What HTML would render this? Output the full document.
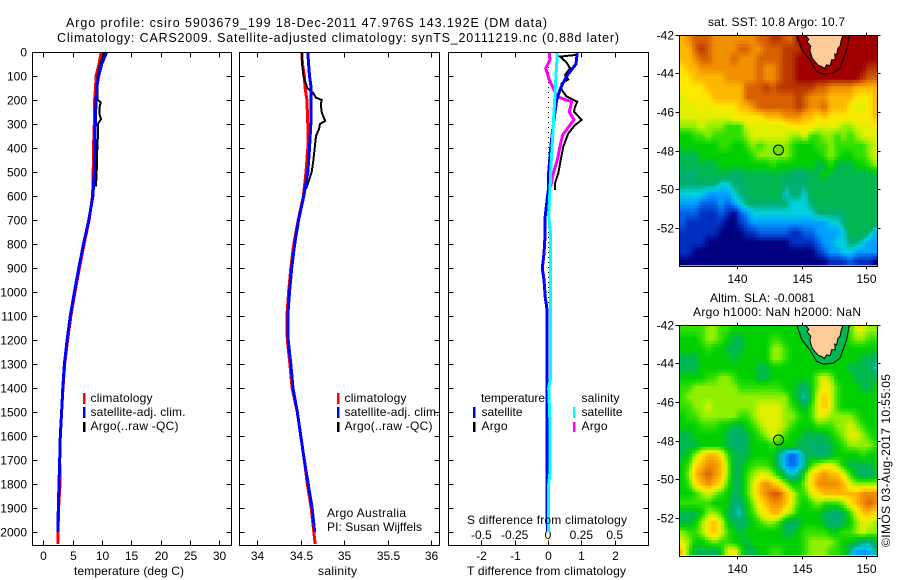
<!DOCTYPE html>
<html>
<head>
<meta charset="utf-8">
<title>Argo profile</title>
<style>
html,body{margin:0;padding:0;background:#fff;}
svg{display:block;}
text{font-family:"Liberation Sans",sans-serif;font-size:12px;fill:#000;}
.t{font-size:12.5px;}
</style>
</head>
<body>
<svg id="fig" xmlns="http://www.w3.org/2000/svg" width="900" height="580" viewBox="0 0 900 580">
<rect x="0" y="0" width="900" height="580" fill="#fff"/>
<text class="t" x="66" y="27" textLength="481" lengthAdjust="spacing">Argo profile: csiro 5903679_199 18-Dec-2011 47.976S 143.192E (DM data)</text>
<text class="t" x="57" y="42" textLength="562" lengthAdjust="spacing">Climatology: CARS2009. Satellite-adjusted climatology: synTS_20111219.nc (0.88d later)</text>

<g id="layer-maps"></g>
<g id="layer-panels"></g>

<text x="74" y="575" textLength="110" lengthAdjust="spacing">temperature (deg C)</text>
<text x="318" y="575" textLength="39" lengthAdjust="spacing">salinity</text>
<text x="467" y="575" textLength="159" lengthAdjust="spacing">T difference from climatology</text>
<text x="467" y="524" textLength="160" lengthAdjust="spacing">S difference from climatology</text>

<g>
<rect x="83" y="393" width="2.5" height="11" fill="#ff0000"/>
<rect x="83" y="407" width="2.5" height="11" fill="#0000ff"/>
<rect x="83" y="422" width="2.5" height="10" fill="#000000"/>
<text x="90.5" y="402" textLength="62" lengthAdjust="spacing">climatology</text>
<text x="90.5" y="416" textLength="95" lengthAdjust="spacing">satellite-adj. clim.</text>
<text x="90.5" y="430" textLength="88" lengthAdjust="spacing">Argo(..raw -QC)</text>
</g>
<g>
<rect x="337" y="393" width="2.5" height="11" fill="#ff0000"/>
<rect x="337" y="407" width="2.5" height="11" fill="#0000ff"/>
<rect x="337" y="422" width="2.5" height="10" fill="#000000"/>
<text x="344.5" y="402" textLength="62" lengthAdjust="spacing">climatology</text>
<text x="344.5" y="416" textLength="95" lengthAdjust="spacing">satellite-adj. clim.</text>
<text x="344.5" y="430" textLength="88" lengthAdjust="spacing">Argo(..raw -QC)</text>
</g>
<text x="327" y="517" textLength="79" lengthAdjust="spacing">Argo Australia</text>
<text x="327" y="531" textLength="95" lengthAdjust="spacing">PI: Susan Wijffels</text>

<g>
<text x="481" y="402" textLength="64" lengthAdjust="spacing">temperature</text>
<text x="581.5" y="402" textLength="38" lengthAdjust="spacing">salinity</text>
<rect x="473" y="407" width="2.5" height="11" fill="#0000ff"/>
<rect x="473" y="422" width="2.5" height="10" fill="#000000"/>
<rect x="573" y="407" width="2.5" height="11" fill="#00ffff"/>
<rect x="573" y="422" width="2.5" height="10" fill="#ff00ff"/>
<text x="481.5" y="416" textLength="41" lengthAdjust="spacing">satellite</text>
<text x="481.5" y="430" textLength="26" lengthAdjust="spacing">Argo</text>
<text x="581.5" y="416" textLength="41" lengthAdjust="spacing">satellite</text>
<text x="581.5" y="430" textLength="26" lengthAdjust="spacing">Argo</text>
</g>

<text x="708" y="26" textLength="137" lengthAdjust="spacing">sat. SST: 10.8 Argo: 10.7</text>
<text x="710" y="302" textLength="105" lengthAdjust="spacing">Altim. SLA: -0.0081</text>
<text x="693" y="316" textLength="168" lengthAdjust="spacing">Argo h1000: NaN h2000: NaN</text>
<text transform="translate(890,547) rotate(-90)" x="0" y="0" textLength="173" lengthAdjust="spacing">©IMOS 03-Aug-2017 10:55:05</text>
</svg>

<script>
// ---------- profile data ----------
const climDepths = [0,50,100,150,200,300,400,500,600,700,800,900,1000,1100,1200,1300,1400,1500,1600,1700,1800,1900,2000,2050];
const satDepths = [0,50,100,150,200,300,400,500,600,700,800,900,1000,1100,1200,1300,1400,1500,1600,1700,1800,1900,2000];
const tempClim = [9.85,9.5,9.0,8.9,8.75,8.7,8.55,8.5,8.4,7.8,6.95,6.15,5.4,4.7,4.15,3.65,3.35,3.12,2.9,2.8,2.85,2.6,2.5,2.5];
const tempSat = [10.8,9.95,9.45,9.1,8.98,8.87,8.8,8.7,8.45,7.75,6.85,6.05,5.3,4.6,4.05,3.6,3.33,3.12,2.9,2.8,2.68,2.56,2.5];
const argoTempDepths = [0,10,50,100,150,190,200,210,230,260,280,300,350,400,500,550,560];
const argoTemp = [10.4,10.3,9.66,9.27,9.27,9.2,9.3,9.78,9.6,9.6,9.83,9.3,9.3,9.2,9.1,9.0,9.0];
const salClim = [34.51,34.52,34.54,34.55,34.57,34.58,34.58,34.56,34.53,34.47,34.42,34.385,34.36,34.34,34.345,34.375,34.40,34.46,34.5,34.54,34.575,34.62,34.65,34.665];
const salSat = [34.58,34.59,34.6,34.62,34.62,34.615,34.6,34.58,34.535,34.475,34.43,34.395,34.37,34.35,34.355,34.385,34.41,34.46,34.5,34.54,34.585,34.63,34.66];
const argoSalDepths = [0,50,100,150,170,190,200,220,250,270,287,300,320,350,400,450,500,550,570];
const argoSal = [34.51,34.515,34.53,34.575,34.64,34.675,34.74,34.73,34.74,34.76,34.78,34.72,34.71,34.675,34.66,34.645,34.625,34.58,34.56];
const diffTempSatDepths = [0,50,100,150,200,300,400,500,575,631,693,769,839,901,950,1025,1060,1100,1400,1800,2000];
const diffTempSat = [0.88,0.84,0.56,0.38,0.26,0.16,0.08,0.02,0.01,-0.04,-0.09,-0.09,-0.12,-0.17,-0.12,-0.08,-0.04,-0.03,-0.03,-0.03,-0.02];
const diffSalSatDepths = [0,50,100,150,200,300,400,500,575,680,764,1000,1353,1400,1550,1750,1800,2000];
const diffSalSat = [0.07,0.065,0.06,0.055,0.05,0.04,0.03,0.02,0.015,0.005,0.02,0.02,0.02,0.005,0.015,0.015,0.005,0.005];
const diffTempArgoDepths = [0,12,19,44,68,96,114,131,158,186,207,228,249,283,304,339,394,450,505,547,575];
const diffTempArgo = [0.88,0.85,0.36,0.56,0.66,0.51,0.61,0.41,0.41,0.56,0.88,0.81,0.78,1.01,0.81,0.61,0.46,0.38,0.31,0.21,0.21];
const diffSalArgoDepths = [0,33,68,89,117,151,186,207,249,283,304,346,394,450,505,561];
const diffSalArgo = [0.01,0.015,-0.0175,-0.005,0.01,0.04,0.065,0.1775,0.16,0.195,0.165,0.11,0.09,0.07,0.04,0.02];

// ---------- tick labels ----------
const depthTicks = [0,100,200,300,400,500,600,700,800,900,1000,1100,1200,1300,1400,1500,1600,1700,1800,1900,2000];
const tempTicks = [0,5,10,15,20,25,30];
const salTicks = [34,34.5,35,35.5,36];
const diffTTicks = [-2,-1,0,1,2];
const diffSTicks = [-0.5,-0.25,0,0.25,0.5];
const lonTicks = [140,145,150];
const latTicks = [-42,-44,-46,-48,-50,-52];

// ---------- map data: colour level per 0.5-degree cell, rows north to south, columns west to east ----------
const sstLevels = [
[12,13,14,14,14,13,13,13,13,13,13,13,14,14,15,15,14,14,16,16,16,16,16,16,16,16,16,16,16,16,16],
[12,12,14,15,14,13,13,13,13,14,14,13,13,14,14,14,15,15,15,16,16,16,16,16,16,16,16,16,16,16,16],
[12,12,13,14,14,13,13,13,14,13,13,13,14,14,14,14,15,15,16,16,16,16,16,16,16,16,16,16,16,16,16],
[11,12,12,13,13,13,13,13,13,13,13,13,14,13,13,14,15,15,16,16,16,16,16,16,16,16,16,16,16,15,15],
[11,11,12,12,12,12,12,13,13,13,13,13,14,13,13,14,15,15,16,16,16,16,16,16,16,16,16,16,15,14,14],
[11,11,11,11,12,12,12,12,12,12,14,14,14,15,14,15,15,15,15,15,15,14,14,13,13,13,13,12,12,12,12],
[10,11,11,11,11,12,12,12,12,12,14,14,14,14,14,14,14,14,15,14,13,13,13,12,12,12,12,11,11,11,12],
[10,10,10,11,10,11,11,11,11,12,12,13,14,14,14,14,14,14,15,14,13,13,14,12,12,12,11,10,10,11,12],
[10,10,10,10,10,10,10,10,11,11,11,11,11,12,12,12,13,13,13,12,12,11,12,11,11,11,11,11,11,11,12],
[9,9,9,10,9,9,9,8,8,8,10,10,10,10,10,10,10,11,11,11,11,10,10,10,10,9,9,10,10,10,11],
[7,7,8,8,9,8,8,8,8,8,9,10,10,10,10,10,10,9,9,10,8,8,9,9,8,9,8,9,10,10,10],
[7,7,7,7,7,7,8,8,7,7,8,9,8,9,9,9,9,8,7,7,7,8,8,9,8,8,8,8,8,9,10],
[6,6,6,7,7,7,7,7,7,7,7,8,9,9,9,9,9,8,7,7,7,7,8,9,8,7,7,8,8,9,10],
[6,6,6,6,6,6,7,7,7,7,7,7,7,7,8,7,7,7,7,7,7,6,6,8,6,6,6,7,7,8,9],
[5,5,5,6,6,6,6,6,5,5,6,6,6,6,6,6,6,5,5,5,6,6,7,6,6,6,6,6,6,6,6],
[5,5,5,5,5,5,4,4,5,5,6,6,6,6,6,6,5,5,5,5,6,6,6,6,6,6,6,6,6,6,6],
[4,4,4,4,3,3,3,3,4,5,5,6,6,6,6,6,4,5,5,4,6,6,6,6,6,6,6,6,6,6,6],
[3,3,3,2,2,2,3,2,3,4,5,5,5,5,5,5,5,4,4,4,5,6,6,6,6,6,6,6,6,6,6],
[2,2,2,1,1,1,2,1,0,2,3,4,4,4,4,4,4,4,4,4,4,5,5,5,5,5,6,6,6,6,6],
[2,1,1,1,1,1,1,0,0,1,2,3,3,3,3,3,3,3,3,3,3,3,3,4,4,5,6,6,6,6,6],
[1,1,1,1,1,1,0,0,0,0,1,1,2,2,2,2,2,1,1,2,2,3,3,3,3,4,6,6,6,5,3],
[1,1,1,1,0,0,0,0,0,0,0,0,0,0,0,0,0,1,1,1,1,2,3,3,4,4,5,5,4,3,3],
[1,1,0,0,0,0,0,0,0,0,0,0,0,0,0,0,0,0,0,0,0,1,2,3,3,4,4,3,3,3,3],
[0,0,0,0,0,0,0,0,0,0,0,0,0,0,0,0,0,0,0,0,0,0,0,1,1,1,2,1,1,1,0]
];
const slaLevels = [
[8,8,8,8,9,9,8,8,7,7,7,7,7,7,7,7,7,7,7,7,7,7,7,7,7,7,8,10,10,9,9],
[7,7,7,8,9,9,8,7,6,6,7,7,7,7,8,8,7,7,7,7,7,7,7,7,7,7,8,9,9,8,8],
[7,7,7,7,8,7,7,6,6,6,7,7,7,7,9,9,8,7,7,7,7,7,7,7,7,7,7,7,7,7,7],
[6,6,6,7,7,7,7,7,6,7,7,7,7,7,9,9,8,7,7,7,7,7,7,7,7,7,7,7,6,6,5],
[6,6,6,7,7,7,7,7,7,7,7,7,6,6,7,7,7,7,7,7,7,7,7,7,7,7,6,6,6,6,4],
[7,7,7,7,8,8,9,9,8,7,7,7,6,6,7,7,7,7,7,7,7,9,10,9,7,7,7,6,6,6,6],
[8,8,9,9,9,9,9,9,9,8,8,8,8,8,8,8,7,7,6,5,7,9,11,10,8,7,7,7,6,6,7],
[8,9,9,9,9,9,9,9,9,9,9,9,9,9,9,9,9,7,6,4,7,10,12,10,8,7,7,7,7,7,7],
[8,8,9,9,10,9,9,9,9,9,9,9,10,10,10,10,9,8,7,6,8,10,12,10,8,7,7,7,7,7,7],
[7,8,8,9,9,9,9,9,9,8,8,9,10,10,10,10,9,9,8,7,8,10,10,9,9,9,9,8,7,7,7],
[7,7,7,8,8,8,7,7,6,6,7,8,9,10,10,10,9,8,7,7,7,8,8,8,9,9,10,9,8,7,7],
[6,6,7,7,7,7,7,6,5,5,6,7,8,9,10,9,8,7,7,6,6,6,6,7,8,9,10,10,9,8,7],
[6,6,6,7,7,7,7,6,5,5,6,7,7,7,8,7,7,7,6,6,5,5,5,6,7,8,9,9,9,9,8],
[6,7,9,11,12,12,11,8,6,6,6,7,7,7,7,5,3,2,3,5,6,5,5,6,7,7,7,7,8,7,7],
[7,8,11,12,13,13,12,9,6,6,7,8,8,8,7,5,3,2,3,5,8,9,10,10,9,7,6,6,6,6,7],
[7,9,12,13,14,13,12,9,6,6,8,9,10,10,9,7,5,4,5,8,11,12,13,12,12,10,8,6,5,5,6],
[7,8,11,12,13,12,11,8,6,6,8,10,12,13,12,11,9,7,7,9,11,13,13,13,13,12,10,9,9,9,9],
[7,7,8,9,10,9,8,7,6,6,8,10,12,13,14,14,12,10,8,8,10,11,12,12,12,12,12,12,13,13,13],
[8,8,8,8,8,7,7,7,5,5,7,9,11,12,13,13,12,10,8,7,8,9,8,8,8,9,11,12,13,14,13],
[6,6,6,7,9,9,8,6,5,4,7,8,10,11,12,12,10,9,7,7,7,7,6,5,5,6,8,10,12,12,11],
[6,6,7,9,11,12,10,7,6,5,6,7,8,9,9,8,6,5,6,7,7,7,6,5,5,6,7,9,10,10,9],
[9,8,8,9,11,12,10,8,7,6,7,7,7,7,7,7,6,6,7,8,8,8,8,7,7,8,8,9,10,9,9],
[10,9,7,7,8,9,8,8,7,7,6,7,7,7,7,7,7,7,7,8,9,9,9,9,8,7,7,6,5,5,6],
[12,8,6,6,6,5,7,10,11,8,6,6,7,7,8,8,7,7,7,8,9,9,9,8,8,7,5,3,3,3,5]
];
const levelColors = ["#000080","#0030c0","#0060e8","#00a0ff","#00d0e0","#00b070","#00b850","#00d000","#30e000","#90f000","#e0f000","#ffe800","#ffb800","#f09000","#d86000","#b83800","#a00000"];

// ---------- geography (lon/lat) ----------
const landLon = [145.25,148.2,148.05,147.96,147.8,147.7,147.55,147.6,147.31,147.2,146.93,146.75,146.54,146.3,146.02,145.8,145.63,145.7,145.4,145.55];
const landLat = [-42,-42,-42.3,-42.6,-42.7,-43.04,-43.0,-43.3,-43.3,-43.6,-43.56,-43.75,-43.65,-43.6,-43.4,-43.2,-42.8,-42.6,-42.35,-42.25];
const contourLon = [144.6,145.0,145.63,146.15,146.67,147.44,147.96,148.48,148.68];
const contourLat = [-42,-42.78,-43.3,-43.9,-44.04,-43.99,-43.73,-42.78,-42];
const floatLon = 143.192;
const floatLat = -47.976;

// ---------- helpers ----------
const NS = "http://www.w3.org/2000/svg";
function make(parent, tag) {
  const e = document.createElementNS(NS, tag);
  parent.appendChild(e);
  return e;
}
function linear(d0, d1, r0, r1) {
  return function (v) { return r0 + (v - d0) * (r1 - r0) / (d1 - d0); };
}
const yDepth = linear(0, 2000, 52, 532);
const panels = document.getElementById("layer-panels");
const mapsLayer = document.getElementById("layer-maps");

function drawLine(parent, xFn, xs, ds, color, width, name) {
  const el = make(parent, "polyline");
  
  
  el.setAttribute("points", xs.map(function (v, i) { return xFn(v).toFixed(1) + "," + yDepth(ds[i]).toFixed(1); }).join(" "));
  el.setAttribute("fill", "none");
  el.setAttribute("stroke", color);
  el.setAttribute("stroke-width", width);
  el.setAttribute("shape-rendering", "crispEdges");
}
function drawSeg(parent, x1, y1, x2, y2, name) {
  const el = make(parent, "line");
  
  
  el.setAttribute("x1", x1);
  el.setAttribute("y1", y1);
  el.setAttribute("x2", x2);
  el.setAttribute("y2", y2);
  el.setAttribute("stroke", "#000");
  el.setAttribute("stroke-width", 1);
  el.setAttribute("shape-rendering", "crispEdges");
}
function drawLabel(parent, x, y, anchor, str, name) {
  const el = make(parent, "text");
  
  
  el.setAttribute("x", x);
  el.setAttribute("y", y);
  el.setAttribute("text-anchor", anchor);
  el.textContent = str;
}
function drawBox(parent, x, y, w, h, name) {
  const el = make(parent, "rect");
  
  
  el.setAttribute("x", x);
  el.setAttribute("y", y);
  el.setAttribute("width", w);
  el.setAttribute("height", h);
  el.setAttribute("fill", "none");
  el.setAttribute("stroke", "#000");
  el.setAttribute("stroke-width", 1);
  el.setAttribute("shape-rendering", "crispEdges");
}

function drawPanel(name, left, right, top, bottom, xFn, xTicks, showDepthLabels) {
  const g = make(panels, "g");
  
  
  depthTicks.forEach(function (d) {
    const y = Math.round(yDepth(d)) + 0.5;
    drawSeg(g, left, y, left + 5, y, "y-tick-left");
    drawSeg(g, right - 5, y, right, y, "y-tick-right");
    if (showDepthLabels) drawLabel(g, 27, y + 4, "end", String(d), "y-tick-label");
  });
  xTicks.forEach(function (v) {
    const x = Math.round(xFn(v)) + 0.5;
    drawSeg(g, x, top, x, top + 5, "x-tick-top");
    drawSeg(g, x, bottom - 5, x, bottom, "x-tick-bottom");
    drawLabel(g, x, 560, "middle", String(v), "x-tick-label");
  });
  return g;
}

// ---------- temperature panel ----------
const xTemp = linear(0, 30, 43.3, 219.3);
const tempPanel = drawPanel("temperature-panel", 32.5, 231.5, 52.5, 545.5, xTemp, tempTicks, true);
drawLine(tempPanel, xTemp, tempClim, climDepths, "#ff0000", 3, "temperature-climatology-line");
drawLine(tempPanel, xTemp, argoTemp, argoTempDepths, "#000000", 2, "temperature-argo-line");
drawLine(tempPanel, xTemp, tempSat, satDepths, "#0000ff", 3, "temperature-satellite-line");
drawBox(tempPanel, 32.5, 52.5, 199, 493, "temperature-plot-frame");

// ---------- salinity panel ----------
const xSal = linear(34, 36, 257.3, 431.3);
const salPanel = drawPanel("salinity-panel", 239.5, 439.5, 52.5, 545.5, xSal, salTicks, false);
drawLine(salPanel, xSal, salClim, climDepths, "#ff0000", 3, "salinity-climatology-line");
drawLine(salPanel, xSal, argoSal, argoSalDepths, "#000000", 2, "salinity-argo-line");
drawLine(salPanel, xSal, salSat, satDepths, "#0000ff", 3, "salinity-satellite-line");
drawBox(salPanel, 239.5, 52.5, 200, 493, "salinity-plot-frame");

// ---------- difference panel ----------
const xDiffT = linear(-2, 2, 481.3, 614.7);
const xDiffS = linear(-0.5, 0.5, 481.3, 614.7);
const diffPanel = drawPanel("difference-panel", 448.5, 648.5, 52.5, 545.5, xDiffT, diffTTicks, false);
diffSTicks.forEach(function (v) {
  drawLabel(diffPanel, xDiffS(v), 539, "middle", String(v), "s-tick-label");
});
const zeroLine = make(diffPanel, "line");


zeroLine.setAttribute("x1", 548.5);
zeroLine.setAttribute("y1", 52);
zeroLine.setAttribute("x2", 548.5);
zeroLine.setAttribute("y2", 305);
zeroLine.setAttribute("stroke", "#000");
zeroLine.setAttribute("stroke-dasharray", "1 4");
drawLine(diffPanel, xDiffT, diffTempArgo, diffTempArgoDepths, "#000000", 2, "t-difference-argo-line");
drawLine(diffPanel, xDiffS, diffSalArgo, diffSalArgoDepths, "#ff00ff", 3, "s-difference-argo-line");
drawLine(diffPanel, xDiffT, diffTempSat, diffTempSatDepths, "#0000ff", 3, "t-difference-satellite-line");
drawLine(diffPanel, xDiffS, diffSalSat, diffSalSatDepths, "#00ffff", 3, "s-difference-satellite-line");
drawBox(diffPanel, 448.5, 52.5, 200, 493, "difference-plot-frame");

// ---------- maps ----------
const xLon = linear(140, 150, 737.3, 866.3);
function sampleLevel(levels, lon, lat) {
  const fc = Math.max(0, Math.min(levels[0].length - 1, (lon - 135.75) / 0.5));
  const fr = Math.max(0, Math.min(levels.length - 1, (-42.25 - lat) / 0.5));
  const c0 = Math.floor(fc), r0 = Math.floor(fr);
  const c1 = Math.min(levels[0].length - 1, c0 + 1), r1 = Math.min(levels.length - 1, r0 + 1);
  const tc = fc - c0, tr = fr - r0;
  return (levels[r0][c0] * (1 - tc) + levels[r0][c1] * tc) * (1 - tr) +
         (levels[r1][c0] * (1 - tc) + levels[r1][c1] * tc) * tr;
}
function levelColor(v) {
  const m = Math.max(0, Math.min(levelColors.length - 1, v));
  const a = Math.floor(m), b = Math.min(levelColors.length - 1, a + 1), t = m - a;
  const ca = parseInt(levelColors[a].slice(1), 16), cb = parseInt(levelColors[b].slice(1), 16);
  const mix = function (shift) {
    return Math.round(((ca >> shift) & 255) * (1 - t) + ((cb >> shift) & 255) * t);
  };
  return "rgb(" + mix(16) + "," + mix(8) + "," + mix(0) + ")";
}
function drawMap(name, levels, top, pixelBottom, contourFill, markerFill, labelY) {
  const left = 679.5, right = 877.5, bottom = top + 231;
  const yLat = linear(-42, -52, top - 0.3, top + 192.7);
  const g = make(mapsLayer, "g");
  
  
  const lonStep = 0.25, latStep = 1 / 6;
  for (let j = 0; j < 72; j++) {
    const latN = -42 - j * latStep;
    const latS = latN - latStep;
    for (let i = 0; i < 62; i++) {
      const lonW = 135.5 + i * lonStep;
      const lonE = lonW + lonStep;
      const x0 = Math.max(left, xLon(lonW));
      const x1 = Math.min(right, xLon(lonE));
      const y0 = yLat(latN);
      const y1 = Math.min(pixelBottom, yLat(latS));
      if (x1 <= x0 || y1 <= y0) continue;
      const cell = make(g, "rect");
      
      
      cell.setAttribute("x", x0.toFixed(2));
      cell.setAttribute("y", y0.toFixed(2));
      cell.setAttribute("width", (x1 - x0 + 0.4).toFixed(2));
      cell.setAttribute("height", (y1 - y0 + 0.4).toFixed(2));
      cell.setAttribute("fill", levelColor(sampleLevel(levels, lonW + lonStep / 2, latN - latStep / 2)));
    }
  }
  const contour = make(g, "polygon");
  
  
  contour.setAttribute("points", contourLon.map(function (v, i) { return xLon(v).toFixed(1) + "," + yLat(contourLat[i]).toFixed(1); }).join(" "));
  contour.setAttribute("fill", contourFill);
  contour.setAttribute("stroke", "#000");
  contour.setAttribute("stroke-width", 1);
  const land = make(g, "polygon");
  
  
  land.setAttribute("points", landLon.map(function (v, i) { return xLon(v).toFixed(1) + "," + yLat(landLat[i]).toFixed(1); }).join(" "));
  land.setAttribute("fill", "#ffcc99");
  land.setAttribute("stroke", "#000");
  land.setAttribute("stroke-width", 1);
  const marker = make(g, "circle");
  
  
  marker.setAttribute("cx", xLon(floatLon).toFixed(1));
  marker.setAttribute("cy", yLat(floatLat).toFixed(1));
  marker.setAttribute("r", 5);
  marker.setAttribute("fill", markerFill);
  marker.setAttribute("stroke", "#000");
  marker.setAttribute("stroke-width", 1);
  // cover the contour overhang above the frame
  const mask = make(g, "rect");
  
  
  mask.setAttribute("x", left - 1);
  mask.setAttribute("y", top - 3);
  mask.setAttribute("width", right - left + 2);
  mask.setAttribute("height", 3);
  mask.setAttribute("fill", "#fff");
  drawBox(g, left, top + 0.5, right - left, 231, "map-frame");
  lonTicks.forEach(function (v) {
    const x = Math.round(xLon(v)) + 0.5;
    drawSeg(g, x, top - 2.5, x, top + 0.5, "map-lon-tick-top");
    drawSeg(g, x, bottom + 0.5, x, bottom + 3.5, "map-lon-tick-bottom");
    drawLabel(g, x, labelY, "middle", String(v), "map-lon-label");
  });
  latTicks.forEach(function (v) {
    const y = Math.round(yLat(v)) + 0.5;
    drawSeg(g, left - 4, y, left, y, "map-lat-tick-left");
    drawSeg(g, right, y, right + 3, y, "map-lat-tick-right");
    drawLabel(g, 674, y + 4, "end", String(v), "map-lat-label");
  });
}
drawMap("sst-map", sstLevels, 35, 265, "#a00000", "#70e000", 283);
drawMap("sla-map", slaLevels, 325, 555, "#00b850", "none", 573);
</script>
</body>
</html>
